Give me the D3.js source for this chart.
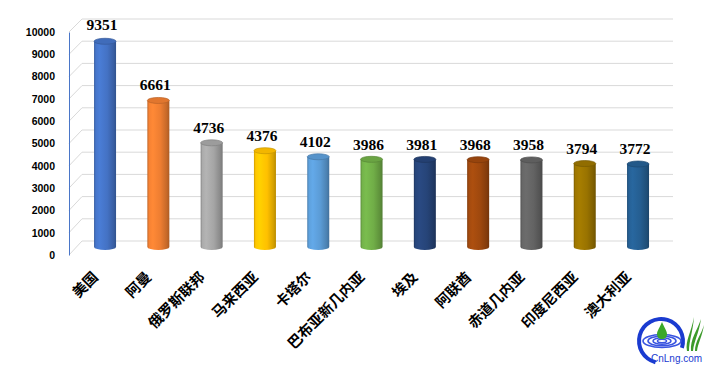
<!DOCTYPE html>
<html lang="zh">
<head>
<meta charset="UTF-8">
<title>LNG</title>
<script src="https://d3js.org/d3.v7.min.js"></script>
<style>
    body { margin: 0; background: #fff; }
    svg { display: block; }
    .tick text { font-family: "Liberation Sans", Arial, sans-serif; font-weight: bold; font-size: 10.5px; fill: #000; }
    .grid { fill: none; stroke: #d9d9d9; stroke-width: 1; }
    .val { font-family: "Liberation Serif", "Times New Roman", serif; font-weight: bold; font-size: 15.5px; fill: #000; }
    .cat { font-family: "Noto Sans CJK SC", sans-serif; font-weight: bold; font-size: 14.5px; fill: #000; }
</style>
</head>
<body>
<div id="chart"></div>
<script>
    const WIDTH = 708
    const HEIGHT = 372

    // data
    const countries = ['美国', '阿曼', '俄罗斯联邦', '马来西亚', '卡塔尔', '巴布亚新几内亚', '埃及', '阿联酋', '赤道几内亚', '印度尼西亚', '澳大利亚']
    const values = [9351, 6661, 4736, 4376, 4102, 3986, 3981, 3968, 3958, 3794, 3772]
    const colors = ['#4472c4', '#ed7d31', '#a5a5a5', '#ffc000', '#5b9bd5', '#70ad47', '#264478', '#9e480e', '#636363', '#997300', '#255e91']
    const ticks = d3.range(0, 10001, 1000)

    const svg = d3.select('#chart').append('svg')
        .attr('width', WIDTH).attr('height', HEIGHT)
        .attr('viewBox', [0, 0, WIDTH, HEIGHT])

    // front / back / middle planes of the 3d box
    const yFront = d3.scaleLinear([0, 10000], [255, 32])
    const yBack = d3.scaleLinear([0, 10000], [241, 19])
    const yMid = d3.scaleLinear([0, 10000], [247, 27])
    const x = d3.scaleBand(countries, [78.4, 664.7])

    const AXIS_X = 69
    const WALL_X = 82
    const WALL_RIGHT = 673

    // gridlines: side wall diagonal + back wall
    svg.append('g').selectAll('path')
        .data(ticks).enter()
        .append('path').attr('class', 'grid')
        .attr('d', t => `M${AXIS_X},${yFront(t)} L${WALL_X},${yBack(t)} L${WALL_RIGHT},${yBack(t)}`)

    // y axis
    const axis = svg.append('g')
        .attr('transform', `translate(${AXIS_X},0)`)
        .call(d3.axisLeft(yFront).tickValues(ticks).tickSize(0).tickPadding(14).tickFormat(d3.format('d')))
    axis.select('.domain').attr('stroke', '#4a76c8').attr('stroke-width', 1)

    // gradients
    const defs = svg.append('defs')
    colors.forEach((c, i) => {
        const col = d3.color(c)
        const g = defs.append('linearGradient').attr('id', 'g' + i)
            .attr('x1', 0).attr('x2', 1).attr('y1', 0).attr('y2', 0)
        const stops = [
            [0, col.darker(0.6)],
            [0.08, col.brighter(0.1)],
            [0.25, col.brighter(0.25)],
            [0.6, col],
            [0.88, col.darker(0.5)],
            [1, col.darker(0.9)]
        ]
        stops.forEach(s => g.append('stop').attr('offset', s[0]).attr('stop-color', s[1]))
    })

    // cylinders
    const BAR_W = 22
    const RY = 3
    const bars = svg.append('g').selectAll('g')
        .data(countries).enter()
        .append('g')

    bars.append('path')
        .attr('fill', (d, i) => `url(#g${i})`)
        .attr('d', (d, i) => {
            const cx = x(d) + x.bandwidth() / 2
            const x0 = cx - BAR_W / 2, x1 = cx + BAR_W / 2
            const yt = yMid(values[i]), yb = yMid(0)
            return `M${x0},${yt} L${x0},${yb} A${BAR_W / 2},${RY} 0 0 0 ${x1},${yb} L${x1},${yt} Z`
        })

    bars.append('ellipse')
        .attr('cx', d => x(d) + x.bandwidth() / 2)
        .attr('cy', (d, i) => yMid(values[i]))
        .attr('rx', BAR_W / 2).attr('ry', RY)
        .attr('fill', (d, i) => d3.color(colors[i]).darker(0.15))
        .attr('stroke', (d, i) => d3.color(colors[i]).darker(0.7))
        .attr('stroke-width', 0.7)

    // value labels
    svg.append('g').selectAll('text')
        .data(countries).enter()
        .append('text').attr('class', 'val')
        .attr('text-anchor', 'middle')
        .attr('x', d => x(d) + x.bandwidth() / 2 - 3)
        .attr('y', (d, i) => yFront(values[i]) - 16.5)
        .text((d, i) => values[i])

    // category labels
    svg.append('g').selectAll('text')
        .data(countries).enter()
        .append('text').attr('class', 'cat')
        .attr('text-anchor', 'end')
        .attr('transform', d => `translate(${x(d) + x.bandwidth() / 2 - 6},278) rotate(-45)`)
        .text(d => d)

    // logo
    const logo = svg.append('g').attr('transform', 'translate(661,341)')
    logo.append('path')
        .attr('d', d3.arc()({ innerRadius: 20, outerRadius: 24, startAngle: -Math.PI * 0.92, endAngle: Math.PI * 0.6 }))
        .attr('fill', '#1a3bd0')
    const ripples = [[19, 6.5], [14, 4.8], [9, 3.2], [4.5, 1.7]]
    logo.selectAll('ellipse')
        .data(ripples).enter()
        .append('ellipse')
        .attr('cx', 1).attr('cy', 0)
        .attr('rx', d => d[0]).attr('ry', d => d[1])
        .attr('fill', 'none').attr('stroke', '#3a55e0').attr('stroke-width', 1.6)
    logo.append('path')
        .attr('d', 'M1,-19 C3,-14 6,-10 6,-7 C6,-4 4,-2 1,-2 C-2,-2 -4,-4 -4,-7 C-4,-10 -1,-14 1,-19 Z')
        .attr('fill', '#3aa82a')
    const grass = [
        'M26,10 C24,0 30,-8 33,-24 C32,-10 28,0 28,10 Z',
        'M30,10 C29,-2 36,-10 40,-22 C38,-8 33,0 32,10 Z',
        'M34,10 C34,0 40,-6 43,-16 C41,-4 37,2 36,10 Z'
    ]
    logo.selectAll('.grass')
        .data(grass).enter()
        .append('path').attr('class', 'grass')
        .attr('d', d => d)
        .attr('fill', '#3c9a2a')
    logo.append('text')
        .attr('x', -10).attr('y', 21)
        .attr('font-family', 'Liberation Sans, Arial, sans-serif')
        .attr('fill', '#1a3bd0')
        .attr('font-size', 10)
        .text('CnLng.com')
</script>
</body>
</html>
